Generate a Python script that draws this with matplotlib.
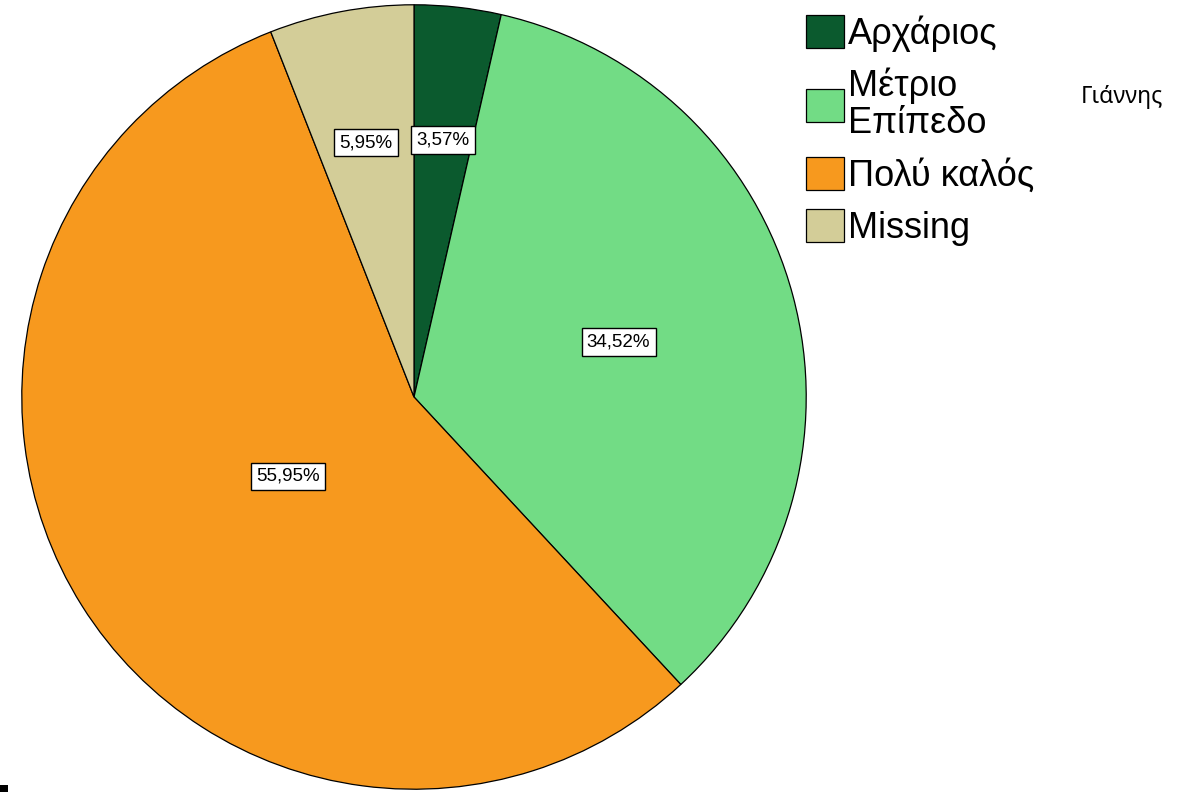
import numpy as np
import matplotlib.pyplot as plt
from matplotlib.patches import Rectangle

plt.rcParams['font.family'] = ['Liberation Sans', 'DejaVu Sans']

# Data
categories = ['Αρχάριος', 'Μέτριο\nΕπίπεδο', 'Πολύ καλός', 'Missing']
percentages = [3.57, 34.52, 55.95, 5.95]
colors = ['#0B5A2E', '#72DC85', '#F7991E', '#D3CD98']

fig = plt.figure(figsize=(11.89, 7.92), dpi=100)

# pie axes: center (414, 397) px, radius 393 px
W, H = 1189, 792
cx, cy, r = 414, 397, 393
ax = fig.add_axes([(cx - r) / W, (H - cy - r) / H, 2 * r / W, 2 * r / H])

wedges, _ = ax.pie(percentages, colors=colors, startangle=90, counterclock=False,
                   radius=1, wedgeprops=dict(edgecolor='black', linewidth=0.9))
ax.set_xlim(-1.002, 1.002)
ax.set_ylim(-1.002, 1.002)
ax.set_aspect('equal')
ax.axis('off')

# percentage labels in white boxes (label distance per slice, SPSS-style)
radii = [0.66, 0.54, 0.38, 0.66]
for i, w in enumerate(wedges):
    ang = np.deg2rad((w.theta1 + w.theta2) / 2)
    rr = radii[i]
    ax.text(rr * np.cos(ang), rr * np.sin(ang), f'{percentages[i]:.2f}%'.replace('.', ','),
            ha='center', va='center', fontsize=13.5,
            bbox=dict(boxstyle='square,pad=0.28', facecolor='white', edgecolor='black', linewidth=1.0))

# legend
leg = fig.legend(wedges, categories, loc='upper left', bbox_to_anchor=(806 / W, 1 - 15 / H),
                 fontsize=26, frameon=False, handlelength=1.05, handleheight=1.05,
                 handletextpad=0.12, labelspacing=0.42, borderaxespad=0, borderpad=0)
for t in leg.get_texts():
    t.set_linespacing(1.1)

fig.text(1122 / W, 1 - 97 / H, 'Γιάννης', ha='center', va='center', fontsize=16.5,
         family=['Noto Sans', 'DejaVu Sans'])

# small black mark bottom-left
fig.patches.append(Rectangle((0, 0), 8 / W, 7 / H, transform=fig.transFigure,
                             facecolor='black', edgecolor='none'))

fig.savefig('out.png', dpi=100, facecolor='white')
